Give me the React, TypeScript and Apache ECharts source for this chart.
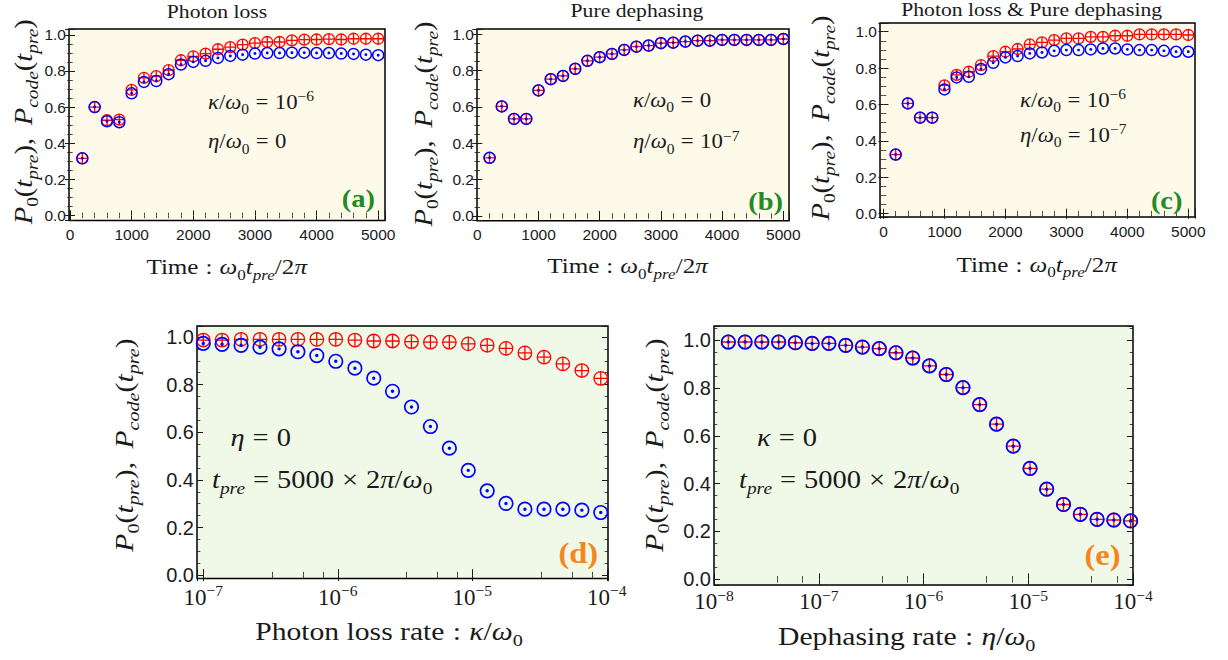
import { useEffect, useRef } from 'react';
import * as echarts from 'echarts';

// ---------------- data ----------------
const timeSteps = [200, 400, 600, 800, 1000, 1200, 1400, 1600, 1800, 2000, 2200, 2400, 2600, 2800, 3000, 3200, 3400, 3600, 3800, 4000, 4200, 4400, 4600, 4800, 5000];

// (a) photon loss
const lossCode = [0.316, 0.600, 0.527, 0.530, 0.695, 0.762, 0.771, 0.804, 0.859, 0.881, 0.896, 0.920, 0.932, 0.945, 0.954, 0.960, 0.960, 0.969, 0.973, 0.974, 0.976, 0.974, 0.978, 0.978, 0.978];
const lossP0 = [0.316, 0.600, 0.521, 0.516, 0.676, 0.739, 0.744, 0.782, 0.835, 0.850, 0.856, 0.872, 0.883, 0.890, 0.896, 0.899, 0.899, 0.901, 0.901, 0.899, 0.899, 0.896, 0.894, 0.890, 0.887];
// (b) pure dephasing
const dephCode = [0.320, 0.603, 0.534, 0.534, 0.691, 0.753, 0.771, 0.810, 0.854, 0.874, 0.892, 0.914, 0.932, 0.938, 0.951, 0.954, 0.960, 0.965, 0.965, 0.969, 0.969, 0.969, 0.969, 0.969, 0.974];
const dephP0 = [0.320, 0.603, 0.534, 0.534, 0.691, 0.753, 0.771, 0.810, 0.854, 0.874, 0.892, 0.914, 0.932, 0.938, 0.951, 0.954, 0.960, 0.965, 0.965, 0.969, 0.969, 0.969, 0.969, 0.969, 0.974];
// (c) both
const bothCode = [0.325, 0.606, 0.528, 0.528, 0.705, 0.763, 0.780, 0.817, 0.866, 0.890, 0.905, 0.930, 0.941, 0.954, 0.963, 0.963, 0.972, 0.972, 0.978, 0.978, 0.985, 0.985, 0.985, 0.985, 0.982];
const bothP0 = [0.325, 0.606, 0.528, 0.528, 0.683, 0.749, 0.752, 0.795, 0.829, 0.859, 0.866, 0.881, 0.886, 0.895, 0.899, 0.899, 0.903, 0.908, 0.908, 0.903, 0.899, 0.899, 0.895, 0.890, 0.890];

// (d) photon loss rate sweep
const kappaRates = [1.00e-7, 1.38e-7, 1.91e-7, 2.64e-7, 3.66e-7, 5.05e-7, 6.98e-7, 9.66e-7, 1.34e-6, 1.85e-6, 2.55e-6, 3.53e-6, 4.88e-6, 6.75e-6, 9.33e-6, 1.29e-5, 1.78e-5, 2.46e-5, 3.41e-5, 4.71e-5, 6.52e-5, 9.01e-5];
const kappaCode = [0.987, 0.987, 0.990, 0.990, 0.990, 0.990, 0.990, 0.990, 0.987, 0.983, 0.983, 0.980, 0.978, 0.978, 0.971, 0.965, 0.952, 0.933, 0.915, 0.887, 0.859, 0.826];
const kappaP0 = [0.973, 0.969, 0.965, 0.957, 0.950, 0.938, 0.922, 0.898, 0.869, 0.827, 0.772, 0.706, 0.624, 0.533, 0.440, 0.354, 0.301, 0.277, 0.277, 0.277, 0.273, 0.263];

// (e) dephasing rate sweep
const etaRates = [1.37e-8, 1.98e-8, 2.86e-8, 4.14e-8, 5.98e-8, 8.65e-8, 1.25e-7, 1.81e-7, 2.61e-7, 3.78e-7, 5.46e-7, 7.89e-7, 1.14e-6, 1.65e-6, 2.38e-6, 3.44e-6, 4.98e-6, 7.19e-6, 1.04e-5, 1.50e-5, 2.17e-5, 3.14e-5, 4.54e-5, 6.56e-5, 9.48e-5];
const etaCode = [0.993, 0.993, 0.993, 0.993, 0.990, 0.987, 0.987, 0.979, 0.972, 0.965, 0.948, 0.926, 0.893, 0.857, 0.802, 0.731, 0.649, 0.557, 0.464, 0.377, 0.313, 0.272, 0.251, 0.248, 0.244];
const etaP0 = [0.993, 0.993, 0.993, 0.993, 0.990, 0.987, 0.987, 0.979, 0.972, 0.965, 0.948, 0.926, 0.893, 0.857, 0.802, 0.731, 0.649, 0.557, 0.464, 0.377, 0.313, 0.272, 0.251, 0.248, 0.244];

const panelTitles = ['Photon loss', 'Pure dephasing', 'Photon loss & Pure dephasing'];
const panelTags = ['(a)', '(b)', '(c)', '(d)', '(e)'];
const timeTickStep = 1000;
const probTickStep = 0.2;

// ---------------- styling ----------------
const SERIF = 'Liberation Serif';
const SANS = 'Liberation Sans';
const INK = '#1a1a1a';
const RED = '#ff0000';
const BLUE = '#0000ff';
const CREAM = '#fdfaea';
const MINT = '#f0f9e8';
const GREEN = '#238b23';
const ORANGE = '#f5861f';
const SX = 1.14;

const PLUS_SYMBOL = 'path://M0,-10A10,10,0,1,1,0,10A10,10,0,1,1,0,-10ZM-10,0L10,0M0,-10L0,10';
const DOT_SYMBOL = 'path://M0,-10A10,10,0,1,1,0,10A10,10,0,1,1,0,-10ZM0,-1.3A1.3,1.3,0,1,1,0,1.3A1.3,1.3,0,1,1,0,-1.3Z';

function mathRich(S: number, color: string = INK) {
  const s = Math.round(S * 0.68 * 10) / 10;
  const tok = (size: number, italic: boolean, top: number, left = 0, right = 0) => ({
    fontFamily: SERIF,
    fontSize: size,
    fontStyle: italic ? 'italic' : 'normal',
    fontWeight: 'normal',
    color,
    fill: color,
    verticalAlign: 'top',
    height: size,
    padding: [top, right, 0, left],
  });
  const m = 0.3 * S;
  const sub = 0.815 * S;
  const sup = 0.17 * S;
  const gap = 0.28 * S;
  return {
    i: tok(S, true, m),
    il: tok(S, true, m, 0.45 * S),
    r: tok(S, false, m),
    rs: tok(S, false, m, gap, gap),
    si: tok(s, true, sub),
    sr: tok(s, false, sub),
    pr: tok(s, false, sup),
  };
}

function mathText(x: number, y: number, text: string, S: number, align = 'left', rotation = 0) {
  return {
    type: 'text',
    x,
    y,
    rotation,
    scaleX: SX,
    silent: true,
    z: 10,
    style: { text, rich: mathRich(S), align, verticalAlign: 'middle', fill: INK, fontFamily: SERIF, fontSize: S },
  };
}

function plainText(x: number, y: number, text: string, S: number, color: string, bold = false) {
  return {
    type: 'text',
    x,
    y,
    scaleX: SX,
    silent: true,
    z: 10,
    style: {
      text,
      fill: color,
      fontFamily: SERIF,
      fontSize: S,
      fontWeight: bold ? 'bold' : 'normal',
      align: 'center',
      verticalAlign: 'middle',
    },
  };
}

const linFmt = (step: number, digits: number) => (v: number) =>
  Math.abs(v / step - Math.round(v / step)) < 1e-6 ? (Math.abs(v) < 1e-9 ? 0 : v).toFixed(digits) : '';

const logFmt = (v: number) => {
  const e = Math.log10(v);
  const r = Math.round(e);
  return Math.abs(e - r) < 1e-4 ? `{r|10}{pr|\u2212${Math.abs(r)}}` : '';
};

type AxisOpt = {
  gridIndex: number;
  position: string;
  type: string;
  min: number;
  max: number;
  minor: number;
  tickLen: number;
  label: any;
};

function makeAxis(o: AxisOpt) {
  const ax: any = {
    type: o.type,
    gridIndex: o.gridIndex,
    position: o.position,
    min: o.min,
    max: o.max,
    splitNumber: 5,
    axisLine: { show: false },
    splitLine: { show: false },
    axisTick: { show: true, inside: true, length: o.tickLen, lineStyle: { color: INK, width: 1 } },
    minorTick: { show: true, splitNumber: o.minor, length: o.tickLen * 0.55, lineStyle: { color: INK, width: 0.8 } },
    axisLabel: o.label ? { show: true, hideOverlap: false, ...o.label } : { show: false },
  };
  if (o.type === 'log') ax.logBase = 10;
  return ax;
}

type Panel = {
  grid: { left: number; top: number; width: number; height: number };
  bg: string;
  xType: string;
  xMin: number;
  xMax: number;
  xMinor: number;
  yMin: number;
  yMax: number;
  xs: number[];
  code: number[];
  p0: number[];
  size: number;
  bottom: boolean;
  xMargin: number;
};

const panels: Panel[] = [
  { grid: { left: 69, top: 29, width: 316, height: 191.5 }, bg: CREAM, xType: 'value', xMin: -16, xMax: 5110, xMinor: 5, yMin: -0.028, yMax: 1.032, xs: timeSteps, code: lossCode, p0: lossP0, size: 11, bottom: false, xMargin: 6 },
  { grid: { left: 477, top: 29, width: 312, height: 191.7 }, bg: CREAM, xType: 'value', xMin: -5, xMax: 5093, xMinor: 5, yMin: -0.026, yMax: 1.029, xs: timeSteps, code: dephCode, p0: dephP0, size: 11, bottom: false, xMargin: 6 },
  { grid: { left: 880, top: 23, width: 315, height: 194 }, bg: CREAM, xType: 'value', xMin: -57, xMax: 5110, xMinor: 5, yMin: -0.018, yMax: 1.048, xs: timeSteps, code: bothCode, p0: bothP0, size: 11, bottom: false, xMargin: 6 },
  { grid: { left: 197, top: 326, width: 411, height: 252.5 }, bg: MINT, xType: 'log', xMin: 8.98e-8, xMax: 1.02e-4, xMinor: 4, yMin: -0.014, yMax: 1.046, xs: kappaRates, code: kappaCode, p0: kappaP0, size: 13.5, bottom: true, xMargin: 0.5 },
  { grid: { left: 714, top: 326, width: 419, height: 259 }, bg: MINT, xType: 'log', xMin: 1e-8, xMax: 1e-4, xMinor: 3, yMin: -0.024, yMax: 1.06, xs: etaRates, code: etaCode, p0: etaP0, size: 13.5, bottom: true, xMargin: -1.5 },
];

function buildOption() {
  const grid: any[] = [];
  const xAxis: any[] = [];
  const yAxis: any[] = [];
  const series: any[] = [];

  panels.forEach((p, gi) => {
    grid.push({
      ...p.grid,
      show: true,
      backgroundColor: p.bg,
      borderColor: '#000',
      borderWidth: 1.5,
      containLabel: false,
      outerBoundsMode: 'none',
    });
    const tickLen = p.bottom ? 6 : 5;
    const xLabel =
      p.xType === 'log'
        ? { margin: p.xMargin, formatter: logFmt, rich: mathRich(23), color: INK, fontFamily: SERIF, fontSize: 23 }
        : { margin: p.xMargin, formatter: linFmt(timeTickStep, 0), fontFamily: SANS, fontSize: 15.5, color: INK };
    const yLabel = {
      margin: 3,
      formatter: linFmt(probTickStep, 1),
      fontFamily: SANS,
      fontSize: p.bottom ? 20 : 15.5,
      color: INK,
    };
    xAxis.push(makeAxis({ gridIndex: gi, position: 'bottom', type: p.xType, min: p.xMin, max: p.xMax, minor: p.xMinor, tickLen, label: xLabel }));
    xAxis.push(makeAxis({ gridIndex: gi, position: 'top', type: p.xType, min: p.xMin, max: p.xMax, minor: p.xMinor, tickLen, label: null }));
    yAxis.push(makeAxis({ gridIndex: gi, position: 'left', type: 'value', min: p.yMin, max: p.yMax, minor: 4, tickLen, label: yLabel }));
    yAxis.push(makeAxis({ gridIndex: gi, position: 'right', type: 'value', min: p.yMin, max: p.yMax, minor: 4, tickLen, label: null }));

    series.push({
      type: 'scatter',
      name: 'Pcode',
      xAxisIndex: 2 * gi,
      yAxisIndex: 2 * gi,
      data: p.xs.map((x, k) => [x, p.code[k]]),
      symbol: PLUS_SYMBOL,
      symbolSize: p.size,
      itemStyle: { color: 'rgba(0,0,0,0)', borderColor: RED, borderWidth: 1.3, opacity: 1 },
      silent: true,
      z: 3,
    });
    series.push({
      type: 'scatter',
      name: 'P0',
      xAxisIndex: 2 * gi,
      yAxisIndex: 2 * gi,
      data: p.xs.map((x, k) => [x, p.p0[k]]),
      symbol: DOT_SYMBOL,
      symbolSize: p.size,
      itemStyle: { color: 'rgba(0,0,0,0)', borderColor: BLUE, borderWidth: p.bottom ? 1.7 : 1.5, opacity: 1 },
      silent: true,
      z: 4,
    });
  });

  const yTitle = '{i|P}{sr|0}{r|(}{i|t}{si|pre}{r|),}{il|P}{si|code}{r|(}{i|t}{si|pre}{r|)}';
  const timeTitle = '{r|Time}{rs|:}{i|\u03c9}{sr|0}{i|t}{si|pre}{r|/2}{i|\u03c0}';
  const tpre = '{i|t}{si|pre}{rs|=}{r|5000}{rs|\u00d7}{r|2}{i|\u03c0}{r|/}{i|\u03c9}{sr|0}';
  const kap = (v: string) => `{i|\u03ba}{r|/}{i|\u03c9}{sr|0}{rs|=}${v}`;
  const eta = (v: string) => `{i|\u03b7}{r|/}{i|\u03c9}{sr|0}{rs|=}${v}`;

  const elements: any[] = [
    plainText(217, 11, panelTitles[0], 19, INK),
    plainText(637, 10.5, panelTitles[1], 19, INK),
    plainText(1031.7, 9.6, panelTitles[2], 19, INK),

    mathText(226.7, 265.5, timeTitle, 22, 'center'),
    mathText(627.5, 264.7, timeTitle, 22, 'center'),
    mathText(1036.7, 263, timeTitle, 22, 'center'),
    mathText(389, 629.8, '{r|Photon loss rate}{rs|:}{i|\u03ba}{r|/}{i|\u03c9}{sr|0}', 26, 'center'),
    mathText(906.7, 634.8, '{r|Dephasing rate}{rs|:}{i|\u03b7}{r|/}{i|\u03c9}{sr|0}', 26, 'center'),

    mathText(22, 121.7, yTitle, 25, 'center', Math.PI / 2),
    mathText(422, 124, yTitle, 25, 'center', Math.PI / 2),
    mathText(819, 118, yTitle, 25, 'center', Math.PI / 2),
    mathText(122.7, 445, yTitle, 26, 'center', Math.PI / 2),
    mathText(652.7, 445, yTitle, 26, 'center', Math.PI / 2),

    mathText(208, 101.5, kap('{r|10}{pr|\u22126}'), 20),
    mathText(208, 140.7, eta('{r|0}'), 20),
    mathText(633, 99, kap('{r|0}'), 20),
    mathText(633, 140.7, eta('{r|10}{pr|\u22127}'), 20),
    mathText(1020, 99, kap('{r|10}{pr|\u22126}'), 20),
    mathText(1020, 134, eta('{r|10}{pr|\u22127}'), 20),
    mathText(230.5, 433.7, '{i|\u03b7}{rs|=}{r|0}', 25),
    mathText(212, 478.7, tpre, 25),
    mathText(757, 433.7, '{i|\u03ba}{rs|=}{r|0}', 25),
    mathText(739, 478.7, tpre, 25),

    plainText(358.3, 198.8, panelTags[0], 25, GREEN, true),
    plainText(765.7, 202, panelTags[1], 25, GREEN, true),
    plainText(1166.7, 200.5, panelTags[2], 25, GREEN, true),
    plainText(578.3, 553.5, panelTags[3], 28.5, ORANGE, true),
    plainText(1102.5, 556, panelTags[4], 28.5, ORANGE, true),
  ];

  return {
    animation: false,
    backgroundColor: '#ffffff',
    grid,
    xAxis,
    yAxis,
    series,
    graphic: { elements },
  };
}

export default function App() {
  const ref = useRef<HTMLDivElement>(null);
  useEffect(() => {
    if (!ref.current) return;
    const chart = echarts.init(ref.current, undefined, { renderer: 'svg' });
    chart.setOption(buildOption() as any);
    return () => chart.dispose();
  }, []);
  return (
    <div
      ref={ref}
      style={{ position: 'fixed', left: 0, top: 0, width: 1228, height: 660, background: '#ffffff' }}
    />
  );
}
